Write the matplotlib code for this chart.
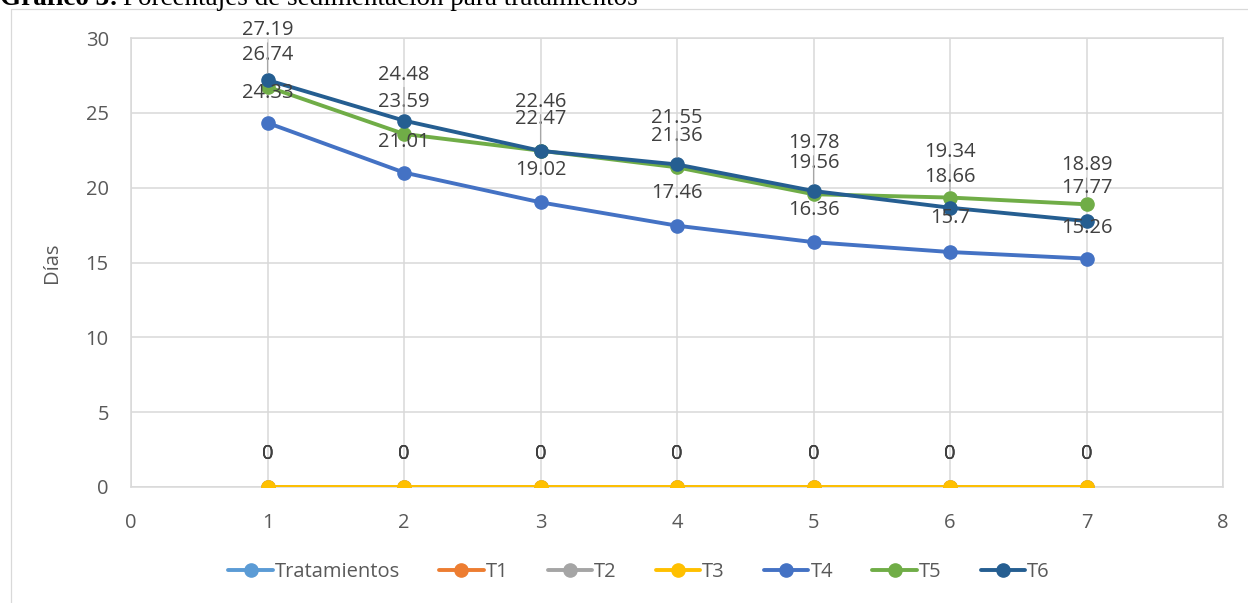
import matplotlib
matplotlib.use('Agg')
import matplotlib.pyplot as plt
from matplotlib.patches import Rectangle

dias = [1, 2, 3, 4, 5, 6, 7]
tratamientos = []
t1 = [0, 0, 0, 0, 0, 0, 0]
t2 = [0, 0, 0, 0, 0, 0, 0]
t3 = [0, 0, 0, 0, 0, 0, 0]
t4 = [24.33, 21.01, 19.02, 17.46, 16.36, 15.7, 15.26]
t5 = [26.74, 23.59, 22.47, 21.36, 19.56, 19.34, 18.89]
t6 = [27.19, 24.48, 22.46, 21.55, 19.78, 18.66, 17.77]

# label distance above each marker, in pixels (some were pulled up by hand)
off_zero = [33] * 7
off_t4 = [30, 31, 32, 33, 32, 34, 31]
off_t5 = [32, 32, 32, 31, 31, 46, 39]
off_t6 = [50, 46, 49, 46, 48, 31, 33]

plt.rcParams['font.family'] = ['Open Sans', 'DejaVu Sans']
txt = '#404040'
tick_col = '#595959'
grid_col = '#d9d9d9'
fs = 14.5

fig = plt.figure(figsize=(12.48, 6.03), dpi=100)
ax = fig.add_axes([131/1248, 1 - 487/603, 1092/1248, 449/603])

series = [
    ('Tratamientos', dias[:len(tratamientos)], tratamientos, '#5B9BD5', None),
    ('T1', dias, t1, '#ED7D31', off_zero),
    ('T2', dias, t2, '#A5A5A5', off_zero),
    ('T3', dias, t3, '#FFC000', off_zero),
    ('T4', dias, t4, '#4472C4', off_t4),
    ('T5', dias, t5, '#70AD47', off_t5),
    ('T6', dias, t6, '#255E91', off_t6),
]

for name, xs, ys, col, offs in series:
    ax.plot(xs, ys, color=col, lw=2.8, marker='o', ms=9.5, label=name,
            solid_capstyle='round', zorder=3)

for name, xs, ys, col, offs in series:
    if offs is None:
        continue
    for x, y, o in zip(xs, ys, offs):
        props = None
        if o > 38:
            props = dict(arrowstyle='-', color='#a6a6a6', lw=0.8,
                         shrinkA=0, shrinkB=5)
        ax.annotate(f'{y:g}', xy=(x, y), xytext=(0, o),
                    textcoords='offset pixels', ha='center', va='center',
                    fontsize=fs, color=txt, zorder=5, arrowprops=props)

ax.set_xlim(0, 8)
ax.set_ylim(0, 30)
ax.set_xticks(range(0, 9))
ax.set_yticks(range(0, 31, 5))
ax.grid(True, color=grid_col, lw=1.1, zorder=0)
for s in ax.spines.values():
    s.set_color(grid_col)
    s.set_linewidth(1.1)
ax.tick_params(length=0, labelsize=fs, colors=tick_col)
ax.tick_params(axis='x', pad=19)
ax.tick_params(axis='y', pad=16)
ax.set_ylabel('Días', fontsize=fs, color=tick_col)
ax.yaxis.set_label_coords(-0.063, 0.5)

fig.legend(loc='center', bbox_to_anchor=(0.512, 1 - 572/603), ncol=7,
           frameon=False, fontsize=fs, labelcolor=tick_col,
           handlelength=2.2, handletextpad=0.1, columnspacing=1.95)

# chart frame
fig.patches.append(Rectangle((11/1248, -0.1), 2, 1.1 - 9/603,
                             transform=fig.transFigure, fill=False,
                             edgecolor=grid_col, lw=0.9))

# caption over the chart
t = fig.text(0.0, 1 - 5/603, 'Gráfico 3:', fontsize=19.5, fontweight='bold',
             family='Liberation Serif', va='baseline', ha='left')
fig.canvas.draw()
bb = t.get_window_extent()
fig.text(bb.x1 / 1248 + 0.004, 1 - 5/603,
         'Porcentajes de sedimentación para tratamientos', fontsize=19.5,
         family='Liberation Serif', va='baseline', ha='left')

fig.savefig('out.png', dpi=100)
